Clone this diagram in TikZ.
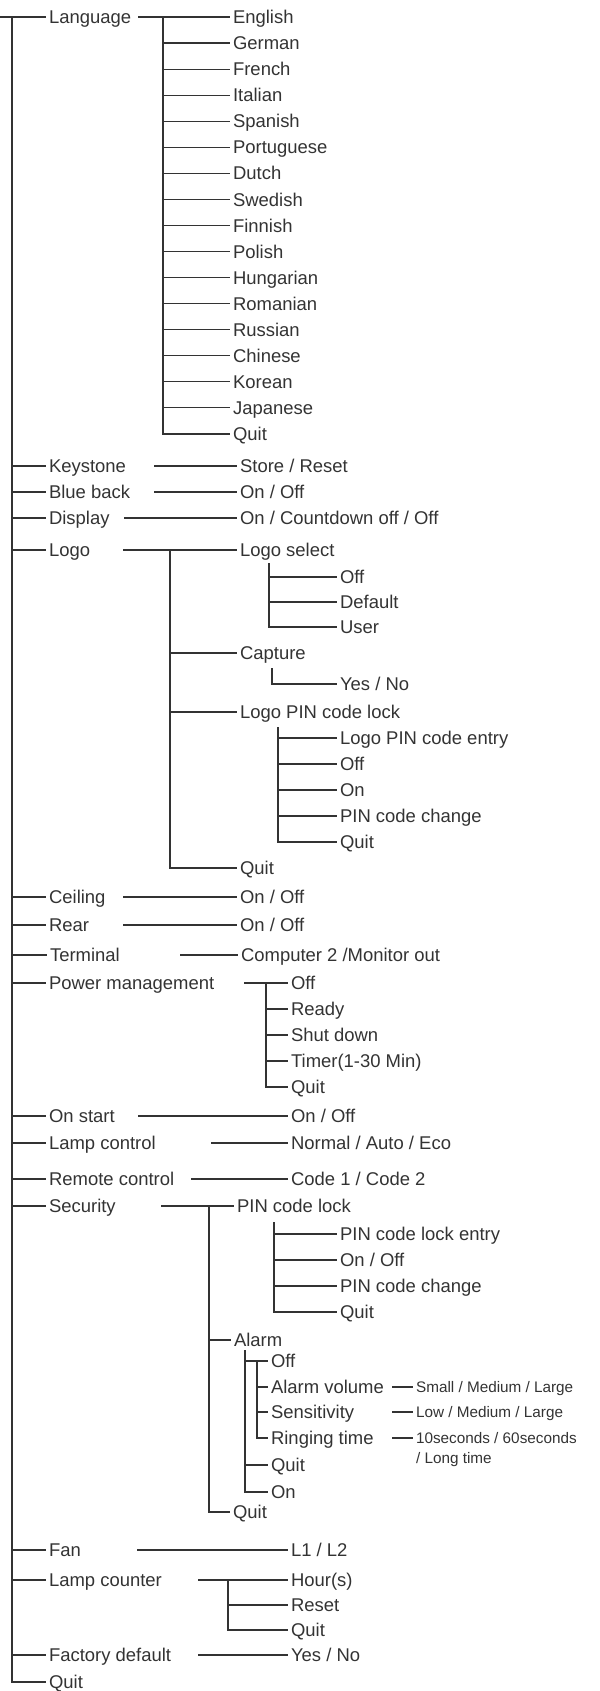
\documentclass[tikz,border=0pt]{standalone}
\usepackage{fontspec}
\usepackage{tikz}
\usepackage{xcolor}
\setmainfont{Liberation Sans}
\definecolor{MenuInk}{HTML}{333333}

\begin{document}
\begin{tikzpicture}[
    x=0.2mm, y=-0.2mm, line width=0.65pt, color=MenuInk,
    opt/.style={anchor=west, inner xsep=0.5mm, inner ysep=0pt, text height=7.5pt, text depth=0pt, font=\fontsize{10.5}{12}\selectfont},
    small/.style={opt, text height=6.2pt, font=\fontsize{8.7}{11.4}\selectfont},
    note/.style={anchor=north west, align=left, inner xsep=0.5mm, inner ysep=0pt, font=\fontsize{8.7}{11.4}\selectfont}
  ]
    \useasboundingbox (0,0) rectangle (600,1691);

    \node[opt] (lang) at (46,17) {Language};
    \node[opt] (kst) at (46,466) {Keystone};
    \node[opt] (blue) at (46,492) {Blue back};
    \node[opt] (disp) at (46,518) {Display};
    \node[opt] (logo) at (46,550) {Logo};
    \node[opt] (ceil) at (46,897) {Ceiling};
    \node[opt] (rear) at (46,925) {Rear};
    \node[opt] (term) at (47,955) {Terminal};
    \node[opt] (pwr) at (46,983) {Power management};
    \node[opt] (onst) at (46,1116) {On start};
    \node[opt] (lampc) at (46,1143) {Lamp control};
    \node[opt] (remote) at (46,1179) {Remote control};
    \node[opt] (secu) at (46,1206) {Security};
    \node[opt] (fan) at (46,1550) {Fan};
    \node[opt] (lampn) at (46,1580) {Lamp counter};
    \node[opt] (fact) at (46,1655) {Factory default};
    \node[opt] (quit) at (46,1682) {Quit};

    \coordinate (top) at (0,17);
    \coordinate (root) at (12,17);
    \draw (top) -- (lang);
    \draw (root) |- (quit);
    \foreach \n in {kst,blue,disp,logo,ceil,rear,term,pwr,onst,lampc,remote,secu,fan,lampn,fact}
      \draw (root |- \n) -- (\n);

    \foreach \lab [count=\i from 0] in {English,German,French,Italian,Spanish,Portuguese,Dutch,Swedish,Finnish,Polish,Hungarian,Romanian,Russian,Chinese,Korean,Japanese,Quit}
      \node[opt] (lng\i) at (230,17+26.06*\i) {\lab};
    \coordinate (lngT) at (163,17);
    \draw (lang -| 138,0) -- (lng0);
    \draw (lngT) |- (lng16);
    \foreach \i in {1,...,15}
      \draw (lngT |- lng\i) -- (lng\i);

    \node[opt] (kstv) at (237,466) {Store / Reset};
    \node[opt] (bluev) at (237,492) {On / Off};
    \node[opt] (dispv) at (237,518) {On / Countdown off / Off};
    \draw (kst -| 154,0) -- (kstv);
    \draw (blue -| 154,0) -- (bluev);
    \draw (disp -| 124,0) -- (dispv);

    \node[opt] (logosel) at (237,550) {Logo select};
    \node[opt] (capt) at (237,653) {Capture};
    \node[opt] (lpin) at (237,712) {Logo PIN code lock};
    \node[opt] (logoq) at (237,868) {Quit};
    \coordinate (logoT) at (170,550);
    \draw (logo -| 123,0) -- (logosel);
    \draw (logoT) |- (logoq);
    \draw (logoT |- capt) -- (capt);
    \draw (logoT |- lpin) -- (lpin);

    \node[opt] (lsOff) at (337,577) {Off};
    \node[opt] (lsDef) at (337,602) {Default};
    \node[opt] (lsUser) at (337,627) {User};
    \coordinate (lsT) at (269,563);
    \draw (lsT) |- (lsUser);
    \draw (lsT |- lsOff) -- (lsOff);
    \draw (lsT |- lsDef) -- (lsDef);

    \node[opt] (captyn) at (337,684) {Yes / No};
    \coordinate (captT) at (272,668);
    \draw (captT) |- (captyn);

    \foreach \lab [count=\i from 0] in {Logo PIN code entry,Off,On,PIN code change,Quit}
      \node[opt] (lp\i) at (337,738+26*\i) {\lab};
    \coordinate (lpinT) at (278,727);
    \draw (lpinT) |- (lp4);
    \foreach \i in {0,...,3}
      \draw (lpinT |- lp\i) -- (lp\i);

    \node[opt] (ceilv) at (237,897) {On / Off};
    \node[opt] (rearv) at (237,925) {On / Off};
    \node[opt] (termv) at (238,955) {Computer 2 /Monitor out};
    \draw (ceil -| 123,0) -- (ceilv);
    \draw (rear -| 123,0) -- (rearv);
    \draw (term -| 180,0) -- (termv);

    \foreach \lab [count=\i from 0] in {Off,Ready,Shut down,Timer(1-30 Min),Quit}
      \node[opt] (pw\i) at (288,983+26*\i) {\lab};
    \coordinate (pwT) at (266,983);
    \draw (pwr -| 244,0) -- (pw0);
    \draw (pwT) |- (pw4);
    \foreach \i in {1,...,3}
      \draw (pwT |- pw\i) -- (pw\i);

    \node[opt] (onstv) at (288,1116) {On / Off};
    \node[opt] (lampcv) at (288,1143) {Normal / Auto / Eco};
    \node[opt] (remotev) at (288,1179) {Code 1 / Code 2};
    \draw (onst -| 138,0) -- (onstv);
    \draw (lampc -| 211,0) -- (lampcv);
    \draw (remote -| 191,0) -- (remotev);

    \node[opt] (pinl) at (234,1206) {PIN code lock};
    \node[opt] (alarm) at (231,1340) {Alarm};
    \node[opt] (secq) at (230,1512) {Quit};
    \coordinate (secT) at (209,1206);
    \draw (secu -| 161,0) -- (pinl);
    \draw (secT) |- (secq);
    \draw (secT |- alarm) -- (alarm);

    \foreach \lab [count=\i from 0] in {PIN code lock entry,On / Off,PIN code change,Quit}
      \node[opt] (pk\i) at (337,1234+26*\i) {\lab};
    \coordinate (pinT) at (274,1222);
    \draw (pinT) |- (pk3);
    \foreach \i in {0,...,2}
      \draw (pinT |- pk\i) -- (pk\i);

    \node[opt] (alOff) at (268,1361) {Off};
    \node[opt] (alVol) at (268,1387) {Alarm volume};
    \node[opt] (alSens) at (268,1412) {Sensitivity};
    \node[opt] (alRing) at (268,1438) {Ringing time};
    \node[opt] (alQuit) at (268,1465) {Quit};
    \node[opt] (alOn) at (268,1492) {On};
    \coordinate (almT) at (245,1350);
    \coordinate (alsT) at (257,1361);
    \draw (almT) |- (alOn);
    \draw (almT |- alOff) -- (alOff);
    \draw (almT |- alQuit) -- (alQuit);
    \draw (alsT) |- (alRing);
    \draw (alsT |- alVol) -- (alVol);
    \draw (alsT |- alSens) -- (alSens);

    \node[small] (alVolv) at (413,1387) {Small / Medium / Large};
    \node[small] (alSensv) at (413,1412) {Low / Medium / Large};
    \node[note] (alRingv) at (413,1432) {10seconds / 60seconds\\/ Long time};
    \draw (alVol -| 392,0) -- (alVolv);
    \draw (alSens -| 392,0) -- (alSensv);
    \draw (alRing -| 392,0) -- (alRing -| alRingv.west);

    \node[opt] (fanv) at (288,1550) {L1 / L2};
    \draw (fan -| 137,0) -- (fanv);

    \node[opt] (lc0) at (288,1580) {Hour(s)};
    \node[opt] (lc1) at (288,1605) {Reset};
    \node[opt] (lc2) at (288,1630) {Quit};
    \coordinate (lcT) at (228,1580);
    \draw (lampn -| 198,0) -- (lc0);
    \draw (lcT) |- (lc2);
    \draw (lcT |- lc1) -- (lc1);

    \node[opt] (factv) at (288,1655) {Yes / No};
    \draw (fact -| 198,0) -- (factv);
  \end{tikzpicture}
\end{document}
